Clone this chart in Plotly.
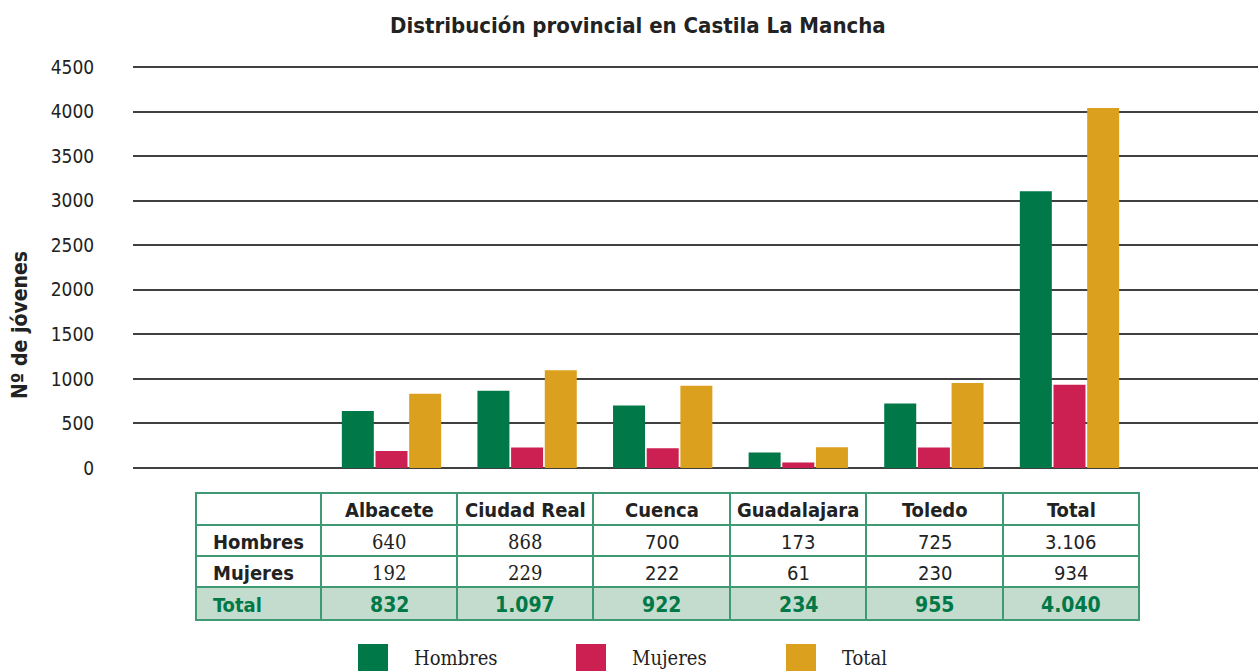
import plotly.graph_objects as go

# ---- data ----
provinces = ["Albacete", "Ciudad Real", "Cuenca", "Guadalajara", "Toledo", "Total"]
hombres = [640, 868, 700, 173, 725, 3106]
mujeres = [192, 229, 222, 61, 230, 934]
totales = [832, 1097, 922, 234, 955, 4040]
row_labels = ["Hombres", "Mujeres", "Total"]
series_names = ["Hombres", "Mujeres", "Total"]
series_colors = ["#007847", "#CB2051", "#DBA01E"]
y_ticks = [0, 500, 1000, 1500, 2000, 2500, 3000, 3500, 4000, 4500]
title_text = "Distribución provincial en Castila La Mancha"
y_title = "Nº de jóvenes"

W, H = 1258, 671
COND = "'DejaVu Sans Condensed', 'Liberation Sans Narrow', sans-serif"
SERIF = "'DejaVu Serif Condensed', 'Liberation Serif', serif"
GREEN = "#007847"
BORDER = "#3E9A72"
TXT = "#222222"


def px_x(p):
    return p / W


def px_y(p):
    # paper fraction for a target pixel row of the final picture
    return 1 - (p - 6.0) / 660.0


def fmt(v):
    return f"{v:,}".replace(",", ".")


xpos = list(range(1, len(provinces) + 1))
fig = go.Figure()
for name, vals, col in zip(series_names, [hombres, mujeres, totales], series_colors):
    fig.add_trace(go.Bar(x=xpos, y=vals, name=name, marker=dict(color=col, line=dict(width=0)),
                         showlegend=False))

shapes = []
annotations = []

# ---- table (drawn with shapes + annotations) ----
col_edges = [196, 321, 457, 593, 730, 866, 1003, 1139]
row_edges = [493, 525, 556, 587, 620]
table_rows = [
    [""] + provinces,
    [row_labels[0]] + [fmt(v) for v in hombres],
    [row_labels[1]] + [fmt(v) for v in mujeres],
    [row_labels[2]] + [fmt(v) for v in totales],
]
serif_cols = {1, 2}
for r, row in enumerate(table_rows):
    ya, yb = row_edges[r], row_edges[r + 1]
    fill = "#C3DCCD" if r == 3 else "white"
    for c, txt in enumerate(row):
        xa, xb = col_edges[c], col_edges[c + 1]
        shapes.append(dict(type="rect", xref="paper", yref="paper", layer="below",
                           x0=px_x(xa), x1=px_x(xb), y0=px_y(yb), y1=px_y(ya),
                           fillcolor=fill, line=dict(color=BORDER, width=2)))
        if not txt:
            continue
        bold = (r == 0) or (c == 0) or (r == 3)
        color = GREEN if r == 3 else TXT
        fam = SERIF if (r in (1, 2) and c in serif_cols) else COND
        if c == 0:
            x, anchor = px_x(xa + 15), "left"
        else:
            x, anchor = px_x((xa + xb) / 2), "center"
        annotations.append(dict(text=f"<b>{txt}</b>" if bold else txt,
                                xref="paper", yref="paper", x=x, y=px_y((ya + yb) / 2 + 1),
                                xanchor=anchor, yanchor="middle", showarrow=False,
                                font=dict(family=fam, size=21 if r == 3 and c > 0 else 20,
                                          color=color)))

# ---- legend (drawn manually for large swatches) ----
leg_x = [358, 576, 786]
for lx, name, col in zip(leg_x, series_names, series_colors):
    shapes.append(dict(type="rect", xref="paper", yref="paper",
                       x0=px_x(lx), x1=px_x(lx + 30), y0=px_y(680), y1=px_y(644),
                       fillcolor=col, line=dict(width=0)))
    annotations.append(dict(text=name, xref="paper", yref="paper", x=px_x(lx + 54), y=px_y(658),
                            xanchor="left", yanchor="middle", showarrow=False,
                            font=dict(family=SERIF, size=20, color=TXT)))

annotations.append(dict(text=f"<b>{title_text}</b>", xref="paper", yref="paper",
                        x=px_x(638), y=px_y(25), xanchor="center", yanchor="middle",
                        showarrow=False, font=dict(family=COND, size=22, color=TXT)))
annotations.append(dict(text=f"<b>{y_title}</b>", xref="paper", yref="paper",
                        x=px_x(20), y=px_y(325), xanchor="center", yanchor="middle",
                        textangle=-90, showarrow=False,
                        font=dict(family=COND, size=21, color=TXT)))

unit = (1069.5 - 391.5) / 5
x0 = 1 + (133 - 391.5) / unit
x1 = 1 + (1258 - 391.5) / unit
ppu = (468 - 67) / 4500.0
pad = 60
y_lo, y_hi = -pad, 4500 + pad

fig.update_layout(
    width=W, height=H,
    margin=dict(l=0, r=0, t=0, b=0),
    paper_bgcolor="white", plot_bgcolor="white",
    barmode="group", bargap=0.255, bargroupgap=0.05,
    xaxis=dict(domain=[px_x(133), 1], range=[x0, x1], showticklabels=False,
               showgrid=False, zeroline=False, showline=False, ticks=""),
    yaxis=dict(domain=[px_y(468 + pad * ppu), px_y(67 - pad * ppu)], range=[y_lo, y_hi],
               tickvals=y_ticks,
               showgrid=True, gridcolor="#404040", gridwidth=1.5, zeroline=False,
               showline=False, ticks="outside", ticklen=34, tickcolor="rgba(0,0,0,0)",
               tickfont=dict(family=COND, size=19, color=TXT)),
    shapes=shapes, annotations=annotations,
)

post = (
    "document.documentElement.style.margin='0px';"
    "document.documentElement.style.overflow='hidden';"
    "document.body.style.margin='0px';"
    "document.body.style.overflow='hidden';"
    "var gd=document.getElementById('{plot_id}');"
    "gd.style.position='fixed';gd.style.left='0px';gd.style.top='0px';"
)
fig.write_html("out.html", config={"displayModeBar": False}, post_script=post)
